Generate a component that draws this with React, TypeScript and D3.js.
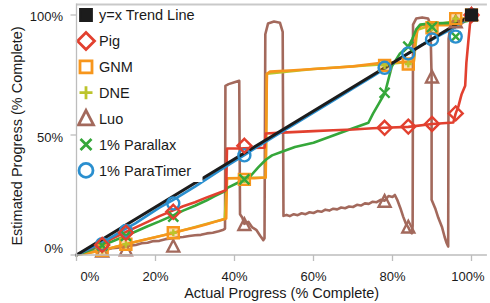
import React from "react";
import * as d3 from "d3";

// ---------- data (percent) ----------
const checkpoints = [6.5, 12.5, 24.5, 42.5, 78, 84, 90, 96, 100];

const trendLine: [number, number][] = [[0, 0], [100, 100]];
const trendMarkerX = [100];
const trendMarkerY = [100];

const pigLine: [number, number][] = [
  [0, 0], [2, 1.6], [4, 3], [6.5, 4.6], [9, 6.8], [12.5, 9.6], [15, 11.5], [18, 13.8],
  [21, 16.2], [24.5, 18.6], [27, 20.3], [30, 22], [33, 24], [35, 25.2], [37.5, 26.8],
  [37.9, 27.2], [38.1, 44.4], [41, 44.4], [44, 44.6], [47.6, 44.7], [47.9, 50.6],
  [52, 51], [56, 51.3], [60, 51.6], [65, 52], [70, 52.3], [75, 52.8], [78, 53],
  [84, 53.4], [90, 54.6], [95.4, 55.2], [96, 59], [96.7, 62], [97.5, 67], [98.4, 70.5],
  [98.7, 80], [99.2, 89], [99.6, 96], [100, 100],
];
const pigMarkers = [4.2, 9.3, 18, 45.5, 53, 53.5, 54.6, 59, 100];

const gnmLine: [number, number][] = [
  [0, 0], [3, 0.8], [6.5, 2], [9, 3], [12.5, 4.5], [15, 5.5], [18, 6.7], [21, 7.8],
  [24.5, 9.2], [27, 10.3], [30, 11.5], [33, 12.8], [35, 13.8], [37.5, 15], [37.9, 15.2],
  [38.1, 32], [42.5, 32], [45, 32], [47.9, 32.3], [48.2, 75.5], [49, 76.4], [55, 77],
  [60, 77.5], [65, 78], [70, 78.6], [76.8, 80], [80.5, 80.3], [85.4, 80.6], [85.7, 89],
  [86.3, 93.8], [87.3, 95.6], [90, 95.8], [95, 95.8], [96, 97.5], [100, 99.5],
];
const gnmMarkers = [2, 4.5, 9.3, 31.5, 79, 79.6, 94.7, 98.5, 100];

const dneLine: [number, number][] = [
  [0, 0], [6.5, 2], [12.5, 4.5], [24.5, 9.2], [37.5, 15], [38.1, 32], [47.9, 32.3],
  [48.2, 75.5], [60, 77.5], [78, 79.5], [85.4, 80.6], [86.3, 93.8], [90, 95.8],
  [96, 97.5], [100, 99.5],
];
const dneMarkers = [2, 4.5, 9.3, 31.5, 79, 79.6, 94.7, 98.5, 100];

const luoLine: [number, number][] = [
  [0, 0], [1.5, 0.8], [3, 1.2], [4.5, 1.5], [6, 1.8], [7.5, 2.2], [9, 2.8], [10.5, 3.0],
  [12, 3.6], [13.5, 3.9], [15, 4.2], [16.5, 4.9], [18, 5.1], [19.5, 5.8], [21, 5.9],
  [22.5, 6.6], [24, 6.9], [25.5, 7.3], [27, 7.5], [28.5, 7.9], [30, 8.2], [31.5, 8.4],
  [33, 9.0], [34.5, 9.3], [36, 9.9], [37.2, 10.5],
  [37.6, 11], [37.7, 70.5], [38.5, 71.2], [40, 72], [41.2, 72.6], [41.4, 17],
  [42, 15.5], [42.5, 13], [43.5, 13.8], [44.5, 11.5], [45.5, 10.5], [46.5, 8], [47.3, 6.2],
  [47.6, 7], [47.8, 92], [48.5, 96.5], [50, 97.3], [51.5, 96.8], [52.2, 93],
  [52.4, 16.3], [53.2, 16.7], [54, 16.2], [55, 17], [56, 16.6], [57, 17.4], [58, 17],
  [59, 17.8], [60, 17.5], [61, 18.3], [62, 18], [63, 18.9], [64, 18.5], [65, 19.3],
  [66, 19], [67, 19.8], [68, 19.5], [69, 20.2], [70, 20], [71, 20.9], [72, 20.6],
  [73, 21.5], [74, 21.3], [75, 22.2], [76, 22], [77, 23], [78, 22.6], [79, 24.6],
  [80, 24.2], [80.6, 25], [81.2, 23], [82, 19.5], [82.7, 16], [83.4, 13], [84, 11.5],
  [84.6, 9.5], [84.9, 9],
  [85.1, 12], [85.2, 96], [86, 98.5], [87.5, 99], [89, 98.5], [89.6, 96], [89.9, 74],
  [89.9, 23], [90.8, 19.5], [91.6, 15.5], [92.5, 11.8], [93.2, 7.5], [93.7, 5], [94.1, 3.5],
  [94.2, 90], [94.5, 93.5], [96, 95], [98, 97], [100, 100],
];
const luoMarkers = [1.5, 2, 3.5, 12.5, 22.2, 11.5, 74, 97, 100];

const parallaxLine: [number, number][] = [
  [0, 0], [3, 1.8], [6.5, 4], [9, 5.6], [12.5, 8], [15, 9.8], [18, 12], [21, 14],
  [24.5, 16.5], [27, 18.5], [30, 20.5], [33, 22.8], [35, 24.5], [37.5, 26.5],
  [38.2, 28], [40.6, 29.9], [43.9, 32.6], [46, 36.5], [48, 39.8], [49.5, 41.5],
  [52, 43], [55.3, 45], [60, 46.8], [65, 49.8], [70, 52.8], [73.9, 55.1], [75.1, 59],
  [76.5, 63], [78.1, 67.6], [79.8, 78.5], [81.9, 84], [84, 86.8], [85, 90], [86, 94],
  [87, 96], [90, 96.5], [96, 96.7], [99, 97.5], [100, 100],
];
const parallaxMarkers = [4, 8, 16, 31.5, 67.6, 86.8, 95, 91, 100];

const paraTimerLine: [number, number][] = [
  [0, 0], [3, 2.4], [6.5, 5.3], [9, 7.6], [12.5, 11], [15, 13.3], [18, 16.5], [21, 19.7],
  [24.5, 23], [27, 25.5], [30, 28.5], [33, 31.7], [36, 34.9], [39, 38.1], [42.5, 41.6],
  [46, 45.3], [50, 49.3], [55, 54.3], [60, 59.3], [65, 64.3], [70, 69.4], [75, 74.4],
  [78, 77.5], [81, 81], [84, 84], [87, 87.2], [90, 89.8], [93, 92.5], [96, 95], [100, 100],
];
const paraTimerMarkers = [4.5, 10, 21.5, 41.5, 78, 84, 89.8, 91, 100];

const xTicks = [0, 20, 40, 60, 80, 100];
const yTicks = [0, 50, 100];
const legendLabels = ["y=x Trend Line", "Pig", "GNM", "DNE", "Luo", "1% Parallax", "1% ParaTimer"];

// ---------- styles ----------
const C = {
  trend: "#1c1c1c",
  pig: "#e2402f",
  gnm: "#f7961c",
  dne: "#bcc42c",
  luo: "#a3695c",
  parallax: "#35a73a",
  paraTimer: "#2a8fcf",
};
const FONT = "'Liberation Sans', Arial, Helvetica, sans-serif";

type Shape = "square" | "diamond" | "triangle" | "cross" | "plus" | "circle";

function shapePath(shape: Shape, s: number): string {
  const h = s / 2;
  switch (shape) {
    case "square": return `M${-h},${-h}h${s}v${s}h${-s}Z`;
    case "diamond": return `M0,${-h}L${h},0L0,${h}L${-h},0Z`;
    case "triangle": return `M0,${-s * 0.55}L${h},${s * 0.42}L${-h},${s * 0.42}Z`;
    case "cross": return `M${-h},${-h}L${h},${h}M${h},${-h}L${-h},${h}`;
    case "plus": return `M${-h},0H${h}M0,${-h}V${h}`;
    default: return "";
  }
}

function Marker({ shape, size, color, fill, sw, cx, cy }: any) {
  if (shape === "circle") {
    return <circle cx={cx} cy={cy} r={size / 2} fill={fill} stroke={color} strokeWidth={sw} />;
  }
  return (
    <path
      d={shapePath(shape, size)}
      transform={`translate(${cx},${cy})`}
      fill={fill}
      stroke={color}
      strokeWidth={sw}
      strokeLinejoin="miter"
    />
  );
}

export default function App() {
  const W = 490, H = 303;
  const x = d3.scaleLinear().domain([0, 100]).range([76.5, 471.5]);
  const y = d3.scaleLinear().domain([0, 100]).range([255, 15]);
  const line = d3.line<[number, number]>().x((d) => x(d[0])).y((d) => y(d[1]));

  const xLeft = x(0), xRight = x(103.9), yTop = y(104.4), yBottom = y(0);

  const lines = [
    { data: luoLine, color: C.luo, w: 2.6 },
    { data: dneLine, color: C.dne, w: 2.4 },
    { data: gnmLine, color: C.gnm, w: 2.6 },
    { data: parallaxLine, color: C.parallax, w: 2.6 },
    { data: pigLine, color: C.pig, w: 2.6 },
    { data: paraTimerLine, color: C.paraTimer, w: 2.6 },
    { data: trendLine, color: C.trend, w: 3.2 },
  ];

  const markerSets = [
    { xs: checkpoints, ys: luoMarkers, shape: "triangle" as Shape, color: C.luo, size: 12, fill: "none", sw: 2.4 },
    { xs: checkpoints, ys: gnmMarkers, shape: "square" as Shape, color: C.gnm, size: 11, fill: "rgba(247,150,28,0.35)", sw: 2.4 },
    { xs: checkpoints, ys: dneMarkers, shape: "plus" as Shape, color: C.dne, size: 7, fill: "none", sw: 2.4 },
    { xs: checkpoints, ys: parallaxMarkers, shape: "cross" as Shape, color: C.parallax, size: 10, fill: "none", sw: 2.4 },
    { xs: checkpoints, ys: paraTimerMarkers, shape: "circle" as Shape, color: C.paraTimer, size: 12, fill: "none", sw: 2.4 },
    { xs: checkpoints, ys: pigMarkers, shape: "diamond" as Shape, color: C.pig, size: 14, fill: "none", sw: 2.4 },
    { xs: trendMarkerX, ys: trendMarkerY, shape: "square" as Shape, color: C.trend, size: 11, fill: C.trend, sw: 2 },
  ];

  const legendShapes: { shape: Shape; color: string; fill: string; size: number }[] = [
    { shape: "square", color: C.trend, fill: C.trend, size: 11 },
    { shape: "diamond", color: C.pig, fill: "#fff", size: 17 },
    { shape: "square", color: C.gnm, fill: "#fff", size: 12 },
    { shape: "plus", color: C.dne, fill: "none", size: 13 },
    { shape: "triangle", color: C.luo, fill: "#fff", size: 15 },
    { shape: "cross", color: C.parallax, fill: "none", size: 11 },
    { shape: "circle", color: C.paraTimer, fill: "#fff", size: 14 },
  ];

  const xLabelDx: Record<number, number> = { 0: 13.5, 100: -3.5 };
  const yLabelBase: Record<number, number> = { 0: -2, 50: 7, 100: 6 };

  return (
    <div style={{ position: "absolute", left: 0, top: 0, width: W, height: H, background: "#fff" }}>
      <svg width={W} height={H} style={{ display: "block" }} fontFamily={FONT}>
        <rect x={0} y={0} width={W} height={H} fill="#fff" />

        {/* frame top */}
        <line x1={xLeft} x2={xRight} y1={yTop} y2={yTop} stroke="#c9c9c9" strokeWidth={2} />

        {/* data lines */}
        {lines.map((l, i) => (
          <path key={i} d={line(l.data) || ""} fill="none" stroke={l.color} strokeWidth={l.w}
            strokeLinejoin="round" strokeLinecap="round" />
        ))}

        {/* markers */}
        {markerSets.map((m, i) => (
          <g key={i}>
            {m.xs.map((xv, j) => (
              <Marker key={j} shape={m.shape} size={m.size} color={m.color} fill={m.fill} sw={m.sw}
                cx={x(xv)} cy={y(m.ys[j])} />
            ))}
          </g>
        ))}

        {/* legend */}
        <rect x={xLeft + 1} y={6} width={125} height={176} fill="#fff" />
        {legendLabels.map((lab, i) => {
          const cy = 15 + i * 25.9;
          const s = legendShapes[i];
          return (
            <g key={lab}>
              <Marker shape={s.shape} size={s.size} color={s.color} fill={s.fill} sw={2.8} cx={86} cy={cy} />
              <text x={99} y={cy + 5.2} fontSize={14.5} fill="#1a1a1a">{lab}</text>
            </g>
          );
        })}

        {/* axes */}
        <line x1={xLeft} x2={xLeft} y1={yTop - 1} y2={yBottom} stroke="#bdbdbd" strokeWidth={1.3} />
        <line x1={xLeft} x2={xRight} y1={yBottom} y2={yBottom} stroke="#bdbdbd" strokeWidth={1.3} />
        {yTicks.map((t) => (
          <g key={"y" + t}>
            <line x1={xLeft - 6} x2={xLeft} y1={y(t)} y2={y(t)} stroke="#bdbdbd" strokeWidth={1.3} />
            <text x={63} y={y(t) + yLabelBase[t]} fontSize={13} textAnchor="end" fill="#1a1a1a">{t}%</text>
          </g>
        ))}
        {xTicks.map((t) => (
          <g key={"x" + t}>
            <line x1={x(t)} x2={x(t)} y1={yBottom} y2={yBottom + 6} stroke="#bdbdbd" strokeWidth={1.3} />
            <text x={x(t) + (xLabelDx[t] || 0)} y={280.5} fontSize={13} textAnchor="middle" fill="#1a1a1a">{t}%</text>
          </g>
        ))}

        {/* axis titles */}
        <text x={(xLeft + xRight) / 2} y={297.5} fontSize={14.5} textAnchor="middle" fill="#1a1a1a">
          Actual Progress (% Complete)
        </text>
        <text transform={`translate(22,136) rotate(-90)`} fontSize={14.5} textAnchor="middle" fill="#1a1a1a">
          Estimated Progress (% Complete)
        </text>
      </svg>
    </div>
  );
}
